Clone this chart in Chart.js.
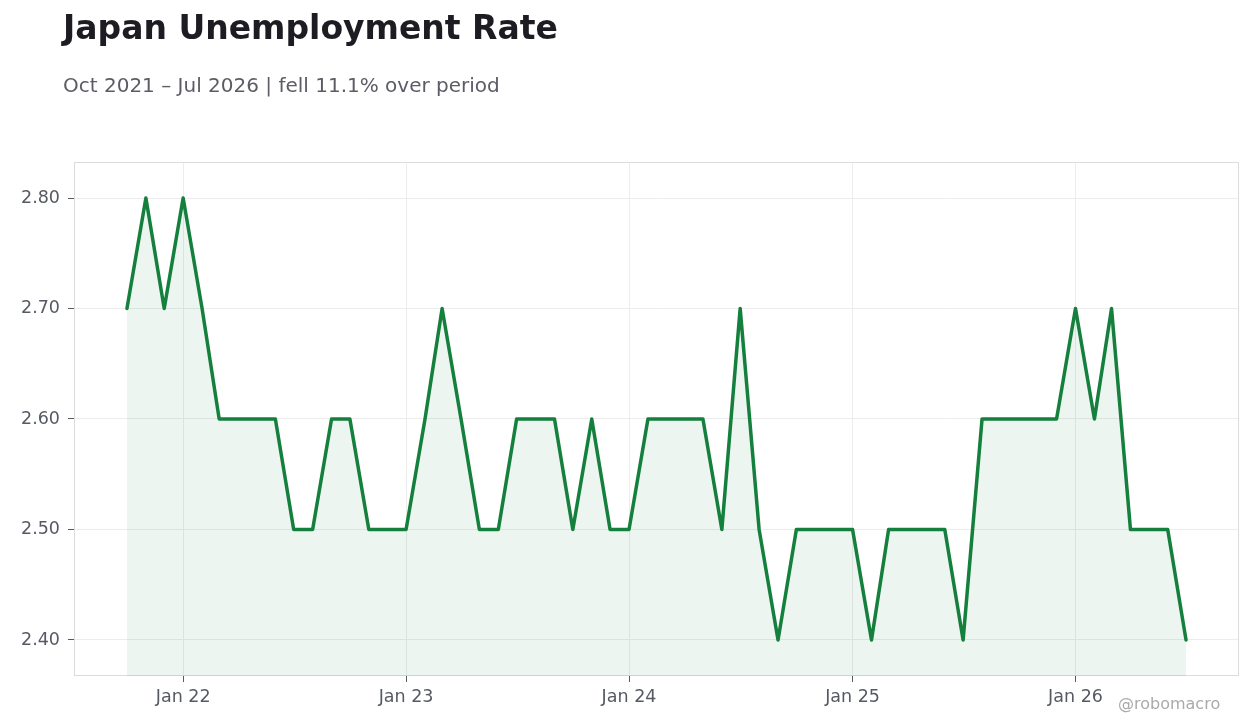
<!DOCTYPE html>
<html>
<head>
<meta charset="utf-8">
<script src="https://cdn.jsdelivr.net/npm/chart.js@4/dist/chart.umd.min.js"></script>
<style>
  html, body { margin: 0; padding: 0; background: #fff; }
  #wrap { position: relative; width: 1260px; height: 728px; font-family: "DejaVu Sans", sans-serif; }
  #chart { position: absolute; left: 0; top: 0; }
  .title { position: absolute; left: 63px; top: 8px; font-size: 33px; font-weight: bold; color: #1c1c22; white-space: nowrap; }
  .subtitle { position: absolute; left: 63px; top: 73px; font-size: 20px; color: #5c5c66; white-space: nowrap; }
  .credit { position: absolute; left: 1118px; top: 694px; font-size: 16px; color: #aaaaaa; white-space: nowrap; }
</style>
</head>
<body>
<div id="wrap">
  <canvas id="chart" width="1260" height="728"></canvas>
  <div class="title">Japan Unemployment Rate</div>
  <div class="subtitle">Oct 2021 – Jul 2026 | fell 11.1% over period</div>
  <div class="credit">@robomacro</div>
</div>
<script>
var months = [
    '2021-10', '2021-11', '2021-12',
    '2022-01', '2022-02', '2022-03', '2022-04', '2022-05', '2022-06',
    '2022-07', '2022-08', '2022-09', '2022-10', '2022-11', '2022-12',
    '2023-01', '2023-02', '2023-03', '2023-04', '2023-05', '2023-06',
    '2023-07', '2023-08', '2023-09', '2023-10', '2023-11', '2023-12',
    '2024-01', '2024-02', '2024-03', '2024-04', '2024-05', '2024-06',
    '2024-07', '2024-08', '2024-09', '2024-10', '2024-11', '2024-12',
    '2025-01', '2025-02', '2025-03', '2025-04', '2025-05', '2025-06',
    '2025-07', '2025-08', '2025-09', '2025-10', '2025-11', '2025-12',
    '2026-01', '2026-02', '2026-03', '2026-04', '2026-05', '2026-06',
    '2026-07'
];
var rates = [
    2.7, 2.8, 2.7,
    2.8, 2.7, 2.6, 2.6, 2.6, 2.6,
    2.5, 2.5, 2.6, 2.6, 2.5, 2.5,
    2.5, 2.6, 2.7, 2.6, 2.5, 2.5,
    2.6, 2.6, 2.6, 2.5, 2.6, 2.5,
    2.5, 2.6, 2.6, 2.6, 2.6, 2.5,
    2.7, 2.5, 2.4, 2.5, 2.5, 2.5,
    2.5, 2.4, 2.5, 2.5, 2.5, 2.5,
    2.4, 2.6, 2.6, 2.6, 2.6, 2.6,
    2.7, 2.6, 2.7, 2.5, 2.5, 2.5,
    2.4
];
var xTickMonths = ['2022-01', '2023-01', '2024-01', '2025-01', '2026-01'];
var xTickLabels = ['Jan 22', 'Jan 23', 'Jan 24', 'Jan 25', 'Jan 26'];
var yTicks = [2.4, 2.5, 2.6, 2.7, 2.8];

// month string -> day number, so the x axis is spaced like real dates
function dayOf(m) {
    return Date.UTC(+m.slice(0, 4), +m.slice(5, 7) - 1, 1) / 86400000;
}

var points = months.map(function (m, i) {
    return { x: dayOf(m), y: rates[i] };
});
var first = dayOf(months[0]);
var last = dayOf(months[months.length - 1]);
var pad = (last - first) * 0.05;

var frame = {
    id: 'frame',
    beforeDatasetsDraw: function (chart) {
        var a = chart.chartArea, c = chart.ctx;
        c.save();
        c.strokeStyle = '#dcdcdc';
        c.lineWidth = 1;
        c.strokeRect(a.left + 0.5, a.top + 0.5, a.right - a.left - 1, a.bottom - a.top - 1);
        c.restore();
    }
};

var tickFont = { family: 'DejaVu Sans', size: 17.5 };

var ctx = document.getElementById('chart').getContext('2d');
var chart = new Chart(ctx, {
    type: 'line',
    data: {
        datasets: [
            {
                data: points,
                borderColor: '#15803d',
                backgroundColor: 'rgba(21,128,61,0.08)',
                borderWidth: 3.5,
                borderJoinStyle: 'round',
                borderCapStyle: 'round',
                pointRadius: 0,
                tension: 0,
                fill: 'start'
            }
        ]
    },
    options: {
        responsive: false,
        animation: false,
        layout: {
            padding: { left: 0, right: 21, top: 162, bottom: 0 }
        },
        plugins: {
            legend: { display: false },
            tooltip: { enabled: false }
        },
        scales: {
            x: {
                type: 'linear',
                min: first - pad,
                max: last + pad,
                afterBuildTicks: function (axis) {
                    axis.ticks = xTickMonths.map(function (m) { return { value: dayOf(m) }; });
                },
                afterFit: function (axis) { axis.height = 52; },
                ticks: {
                    color: '#555a62',
                    font: tickFont,
                    padding: 5,
                    maxRotation: 0,
                    autoSkip: false,
                    callback: function (v) {
                        var i = xTickMonths.map(dayOf).indexOf(v);
                        return i >= 0 ? xTickLabels[i] : '';
                    }
                },
                grid: { color: '#ececec', tickColor: '#555a62', tickLength: 6 },
                border: { display: false }
            },
            y: {
                min: 2.3674,
                max: 2.8326,
                afterBuildTicks: function (axis) {
                    axis.ticks = yTicks.map(function (v) { return { value: v }; });
                },
                afterFit: function (axis) { axis.width = 74; },
                ticks: {
                    color: '#555a62',
                    font: tickFont,
                    padding: 8,
                    callback: function (v) { return v.toFixed(2); }
                },
                grid: { color: '#ececec', tickColor: '#555a62', tickLength: 6 },
                border: { display: false }
            }
        }
    },
    plugins: [frame]
});
</script>
</body>
</html>
